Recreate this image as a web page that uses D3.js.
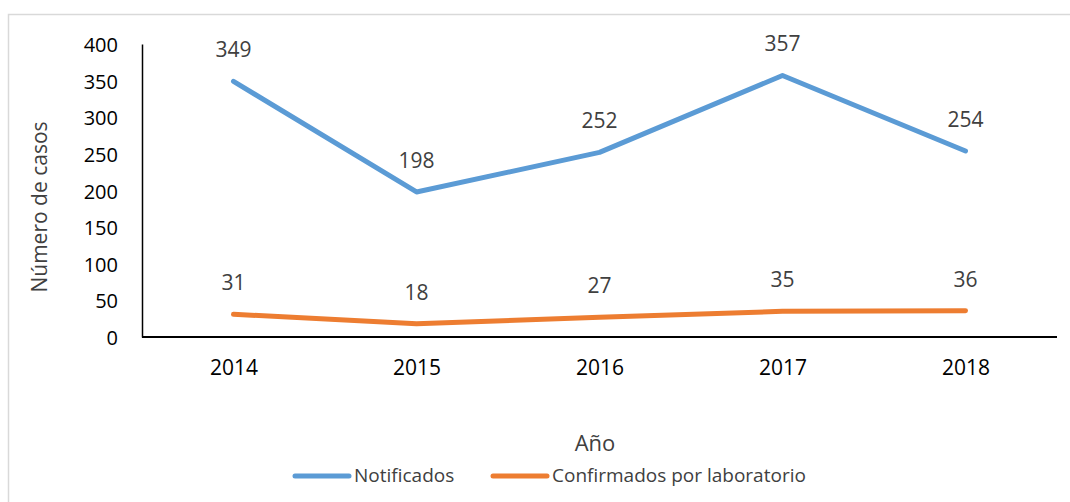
<!DOCTYPE html>
<html>
<head>
<meta charset="utf-8">
<script src="https://cdn.jsdelivr.net/npm/d3@7"></script>
<style>
  body { margin: 0; background: #fff; }
  svg text { font-family: "Open Sans", sans-serif; }
</style>
</head>
<body>
<svg id="chart" width="1070" height="502"></svg>
<script>
const years = ["2014", "2015", "2016", "2017", "2018"];
const notificados = [349, 198, 252, 357, 254];
const confirmados = [31, 18, 27, 35, 36];
const yTicks = [0, 50, 100, 150, 200, 250, 300, 350, 400];

const seriesNames = ["Notificados", "Confirmados por laboratorio"];
const seriesColors = ["#5b9bd5", "#ed7d31"];

const svg = d3.select("#chart");

// chart frame
svg.append("rect")
    .attr("x", 8.5).attr("y", 14.5)
    .attr("width", 1080).attr("height", 500)
    .attr("fill", "none")
    .attr("stroke", "#d9d9d9")
    .attr("stroke-width", 1.5);

const plotLeft = 142, plotRight = 1057, plotTop = 44, plotBottom = 337;

const x = d3.scalePoint()
    .domain(years)
    .range([plotLeft, plotRight])
    .padding(0.5);

const y = d3.scaleLinear()
    .domain([0, 400])
    .range([plotBottom, plotTop]);

// y axis
const yAxis = svg.append("g")
    .attr("transform", `translate(${plotLeft},0)`)
    .call(d3.axisLeft(y).tickValues(yTicks).tickSize(0).tickPadding(24));
yAxis.select(".domain").attr("stroke", "#000").attr("stroke-width", 1.5);
yAxis.selectAll("text").attr("font-size", 20).attr("fill", "#000").attr("dy", "0.38em");

// x axis
const xAxis = svg.append("g")
    .attr("transform", `translate(0,${plotBottom})`)
    .call(d3.axisBottom(x).tickSize(0).tickPadding(23));
xAxis.select(".domain")
    .attr("d", `M${plotLeft},0H${plotRight}`)
    .attr("stroke", "#000").attr("stroke-width", 2);
xAxis.selectAll("text").attr("font-size", 21).attr("fill", "#000");

// axis titles
svg.append("text")
    .attr("transform", "translate(47,207) rotate(-90)")
    .attr("text-anchor", "middle")
    .attr("font-size", 21)
    .attr("fill", "#404040")
    .text("Número de casos");

svg.append("text")
    .attr("x", 595).attr("y", 451)
    .attr("text-anchor", "middle")
    .attr("font-size", 22)
    .attr("fill", "#404040")
    .text("Año");

// lines + labels
const line = d3.line()
    .x((d, i) => x(years[i]))
    .y(d => y(d));

[notificados, confirmados].forEach(function(values, s) {
    svg.append("path")
        .datum(values)
        .attr("d", line)
        .attr("fill", "none")
        .attr("stroke", seriesColors[s])
        .attr("stroke-width", 5)
        .attr("stroke-linecap", "round")
        .attr("stroke-linejoin", "round");

    svg.selectAll(null)
        .data(values)
        .enter()
        .append("text")
        .attr("x", (d, i) => x(years[i]))
        .attr("y", d => y(d) - 24)
        .attr("text-anchor", "middle")
        .attr("font-size", 21)
        .attr("fill", "#404040")
        .text(d => d);
});

// legend
const legendItems = [
    {name: seriesNames[0], color: seriesColors[0], x0: 295},
    {name: seriesNames[1], color: seriesColors[1], x0: 493}
];
const legend = svg.append("g");
legendItems.forEach(function(item) {
    legend.append("line")
        .attr("x1", item.x0).attr("x2", item.x0 + 54)
        .attr("y1", 476).attr("y2", 476)
        .attr("stroke", item.color)
        .attr("stroke-width", 5)
        .attr("stroke-linecap", "round");
    legend.append("text")
        .attr("x", item.x0 + 59).attr("y", 482)
        .attr("font-size", 19)
        .attr("fill", "#404040")
        .text(item.name);
});
</script>
</body>
</html>
